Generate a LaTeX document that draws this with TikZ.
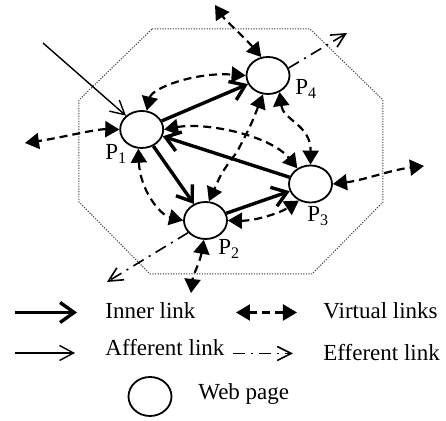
\documentclass[tikz,border=0pt]{standalone}
\usepackage{fontspec}
\setmainfont{Liberation Serif}
\usetikzlibrary{arrows.meta,shapes.geometric}
\begin{document}
\begin{tikzpicture}[x=0.5pt,y=-0.5pt,
  page/.style={draw, ellipse, line width=0.9pt, minimum width=21.5pt, minimum height=18.5pt, inner sep=0pt},
  lbl/.style={inner sep=0pt, anchor=base west, font=\fontsize{11.5pt}{13pt}\selectfont},
  innerlink/.style={line width=1.7pt, -{Straight Barb[length=7pt,width=10pt]}},
  afferent/.style={line width=0.7pt, -{Straight Barb[length=7pt,width=7.5pt]}},
  virt/.style={line width=1.1pt, dash pattern=on 4pt off 2.5pt, {Triangle[length=7pt,width=8pt]}-{Triangle[length=7pt,width=8pt]}},
  eff/.style={line width=0.8pt, dash pattern=on 6pt off 3pt on 1pt off 3pt, -{Straight Barb[length=7pt,width=7pt]}},
  octa/.style={draw=black!75, line width=0.5pt, dash pattern=on 0.6pt off 0.7pt}
]
\useasboundingbox (0,0) rectangle (446,421);
% boundary
\draw[octa] (152,29) -- (310,29) -- (383,100) -- (383,202) -- (312,274) -- (150,274) -- (79,202) -- (79,100) -- cycle;
% pages
\node[page] (p1) at (141.7,129.5) {};
\node[page] (p4) at (268,75.5) {};
\node[page] (p3) at (310.5,184) {};
\node[page] (p2) at (205.5,220.5) {};
\node[lbl] (l1) at (105,160) {P\textsubscript{1}};
\node[lbl] (l4) at (295,95) {P\textsubscript{4}};
\node[lbl] (l3) at (307,222) {P\textsubscript{3}};
\node[lbl] (l2) at (218,255) {P\textsubscript{2}};
% free ends
\coordinate (a0) at (43,43);
\coordinate (vt) at (215,5);
\coordinate (vl) at (25,143);
\coordinate (vr) at (424,166);
\coordinate (vb) at (191,293);
\coordinate (e4) at (347,33);
\coordinate (e2) at (107,282);
% afferent
\draw[afferent] (a0) -- (p1);
% inner links
\draw[innerlink] (p1) -- (p4);
\draw[innerlink] (p1) -- (p2);
\draw[innerlink] (p3) -- (p1);
\draw[innerlink] (p2) -- (p3);
% virtual links
\draw[virt] (p1.75) .. controls (152,88) and (195,72) .. (p4.west);
\draw[virt] (p1.east) .. controls (205,122) and (270,135) .. (p3.130);
\draw[virt] (p1.-100) .. controls (140,190) and (160,215) .. (p2.west);
\draw[virt] (p4.-105) .. controls (251,125) .. (237,152) .. controls (222,172) .. (p2.80);
\draw[virt] (p4.-55) .. controls (283,120) and (311,125) .. (p3.north);
\draw[virt] (p2.east) .. controls (255,221) and (280,213) .. (p3.-125);
\draw[virt] (p4.110) .. controls (245,38) and (225,20) .. (vt);
\draw[virt] (p1.west) .. controls (95,129) and (60,138) .. (vl);
\draw[virt] (p3.east) .. controls (365,180) and (390,170) .. (vr);
\draw[virt] (p2.-95) .. controls (200,262) and (193,275) .. (vb);
% efferent
\draw[eff] (p4.20) -- (e4);
\draw[eff] (p2.215) -- (e2);
% legend
\coordinate (li1) at (15,312.5);
\coordinate (li2) at (77,312.5);
\draw[innerlink] (li1) -- (li2);
\node[lbl] (ti) at (105,319) {Inner link};
\coordinate (lv1) at (236,312.5);
\coordinate (lv2) at (297,312.5);
\draw[virt] (lv1) -- (lv2);
\node[lbl] (tv) at (323,319) {Virtual links};
\coordinate (la1) at (15,353);
\coordinate (la2) at (75,353);
\draw[afferent] (la1) -- (la2);
\node[lbl] (ta) at (105,356) {Afferent link};
\coordinate (le1) at (233,353.5);
\coordinate (le2) at (293,353.5);
\draw[eff] (le1) -- (le2);
\node[lbl] (te) at (323,361) {Efferent link};
\node[page, minimum height=19.5pt] (wp) at (150,396.5) {};
\node[lbl] (tw) at (198,400) {Web page};
\end{tikzpicture}
\end{document}
